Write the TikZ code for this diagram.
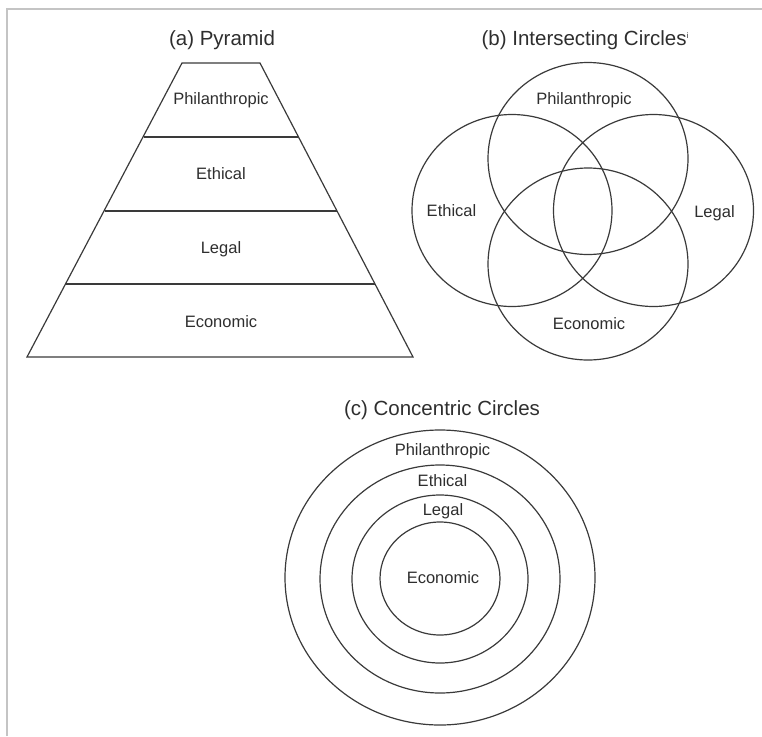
\documentclass[tikz,border=0pt]{standalone}
\usepackage{fontspec}
\setmainfont{Liberation Sans}
\definecolor{ink}{HTML}{3A3A3A}
\definecolor{txt}{HTML}{2E2E2E}
\definecolor{frame}{HTML}{C4C4C4}
\begin{document}
\begin{tikzpicture}[x=1pt,y=-1pt,
  shape line/.style={draw=ink,line width=1.2pt},
  title/.style={anchor=base,inner sep=0pt,text=txt,font=\fontsize{20.5}{24}\selectfont},
  lab/.style={inner sep=0pt,text=txt,text height=11.8pt,text depth=0pt,font=\fontsize{16.5}{19}\selectfont}]
\useasboundingbox (0,0) rectangle (762,736);
% frame
\draw[frame,line width=1.6pt] (7,736) -- (7,9) -- (762,9);
% titles
\node[title] (ta) at (222,45) {(a) Pyramid};
\node[title] (tb) at (585,45) {(b) Intersecting Circles\raisebox{6pt}{\fontsize{8}{9}\selectfont i}};
\node[title] (tc) at (442,415) {(c) Concentric Circles};
% pyramid
\coordinate (p0l) at (182,63);  \coordinate (p0r) at (260,63);
\coordinate (p1l) at (143.5,137); \coordinate (p1r) at (298.5,137);
\coordinate (p2l) at (105,211); \coordinate (p2r) at (337,211);
\coordinate (p3l) at (66,284);  \coordinate (p3r) at (375,284);
\coordinate (p4l) at (27,357);  \coordinate (p4r) at (413,357);
\draw[shape line,line join=miter] (p0l) -- (p0r) -- (p4r) -- (p4l) -- cycle;
\draw[shape line] (p1l) -- (p1r);
\draw[shape line] (p2l) -- (p2r);
\draw[shape line] (p3l) -- (p3r);
\node[lab] (pa) at (221,99) {Philanthropic};
\node[lab] (pb) at (221,174) {Ethical};
\node[lab] (pc) at (221,248) {Legal};
\node[lab] (pd) at (221,322) {Economic};
% intersecting circles
\draw[shape line] (588,158.5) ellipse [x radius=100pt, y radius=96pt];
\draw[shape line] (512,210.5) ellipse [x radius=100pt, y radius=96pt];
\draw[shape line] (653.5,210.5) ellipse [x radius=100pt, y radius=96pt];
\draw[shape line] (588,264) ellipse [x radius=100pt, y radius=96pt];
\node[lab] (ia) at (584,99) {Philanthropic};
\node[lab] (ib) at (451.5,211) {Ethical};
\node[lab] (ic) at (714.5,211.5) {Legal};
\node[lab] (id) at (589,323.5) {Economic};
% concentric circles
\draw[shape line] (440,577.5) ellipse [x radius=155pt, y radius=147.5pt];
\draw[shape line] (440,579) ellipse [x radius=120pt, y radius=114pt];
\draw[shape line] (440,579) ellipse [x radius=88pt, y radius=84pt];
\draw[shape line] (440,578.5) ellipse [x radius=60pt, y radius=56.5pt];
\node[lab] (ca) at (442.5,450) {Philanthropic};
\node[lab] (cb) at (442.5,481) {Ethical};
\node[lab] (cc) at (443,510) {Legal};
\node[lab] (cd) at (443,577.5) {Economic};
\end{tikzpicture}
\end{document}
